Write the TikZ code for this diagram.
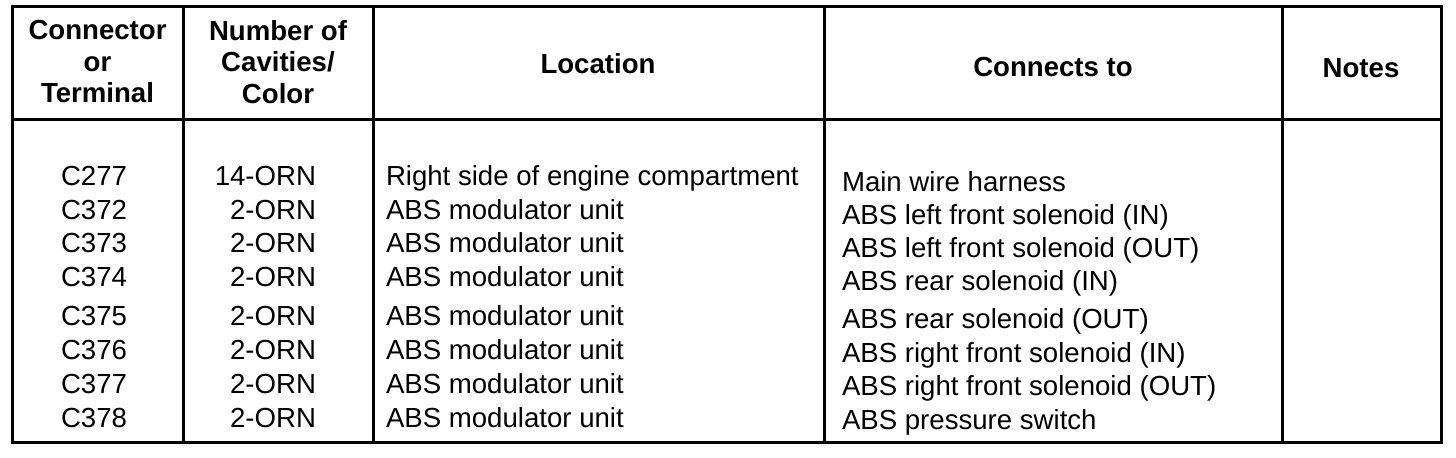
\documentclass[tikz,border=0pt]{standalone}
\usepackage{fontspec}
\setmainfont{Liberation Sans}
\begin{document}
\begin{tikzpicture}[x=0.5pt,y=-0.5pt,
  grid/.style={line width=1.5pt, line cap=rect},
  cell/.style={inner sep=0pt, outer sep=0pt, font=\fontsize{13.8}{16}\selectfont},
  head/.style={inner sep=0pt, outer sep=0pt, align=center, font=\fontsize{13.8}{15.75}\selectfont\bfseries}]
\useasboundingbox (0,0) rectangle (1456,458);
% table frame
\draw[grid] (12,7) rectangle (1441,443);
\draw[grid] (12,120) -- (1441,120);
\foreach \x in {183,373,824,1282} \draw[grid] (\x,7) -- (\x,443);
% header
\node[head, anchor=center] (h1) at (97.5,62) {Connector\\or\\Terminal};
\node[head, anchor=center] (h2) at (278,62) {Number of\\Cavities/\\Color};
\node[head, anchor=base] (h3) at (598,74) {Location};
\node[head, anchor=base] (h4) at (1053,77) {Connects to};
\node[head, anchor=base] (h5) at (1361,78) {Notes};
% body
\foreach \ya/\ca/\cb/\cc/\yb/\cd [count=\i] in {
  186/C277/14-ORN/Right side of engine compartment/192/Main wire harness,
  220/C372/2-ORN/ABS modulator unit/225/ABS left front solenoid (IN),
  253/C373/2-ORN/ABS modulator unit/258/ABS left front solenoid (OUT),
  287/C374/2-ORN/ABS modulator unit/291/ABS rear solenoid (IN),
  326/C375/2-ORN/ABS modulator unit/329/ABS rear solenoid (OUT),
  360/C376/2-ORN/ABS modulator unit/363/ABS right front solenoid (IN),
  394/C377/2-ORN/ABS modulator unit/396/ABS right front solenoid (OUT),
  428/C378/2-ORN/ABS modulator unit/430/ABS pressure switch}{
  \node[cell, anchor=base] (con\i) at (94,\ya) {\ca};
  \node[cell, anchor=base east] (cav\i) at (316,\ya) {\cb};
  \node[cell, anchor=base west] (loc\i) at (386,\ya) {\cc};
  \node[cell, anchor=base west] (to\i) at (842,\yb) {\cd};
}
\end{tikzpicture}
\end{document}
